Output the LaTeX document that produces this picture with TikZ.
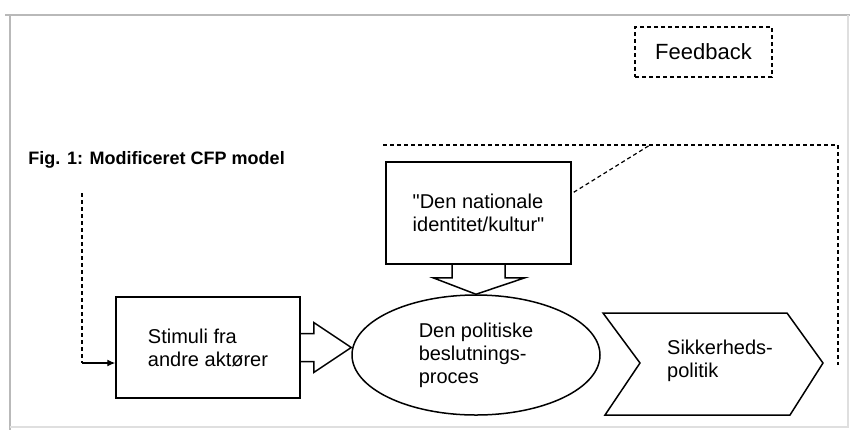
\documentclass[tikz,border=0pt]{standalone}
\usepackage{fontspec}
\setmainfont{Liberation Sans}[Ligatures=TeXOff]
\usetikzlibrary{positioning, arrows.meta, calc, shapes.geometric}

\begin{document}
\begin{tikzpicture}[
        x=0.5pt, y=-0.5pt,
        box/.style={
            rectangle,
            draw,
            line width=0.75pt,
            align=left,
            inner sep=0pt,
            font=\fontsize{10}{11.5}\selectfont
        },
        process/.style={
            ellipse,
            draw,
            line width=0.75pt,
            align=left,
            inner sep=0pt,
            minimum width=124pt,
            minimum height=60pt,
            font=\fontsize{10}{11.5}\selectfont
        },
        label/.style={
            align=left,
            inner sep=0pt,
            font=\fontsize{10}{11.5}\selectfont
        },
        outline/.style={
            line width=0.75pt,
            line join=miter
        },
        feedback/.style={
            line width=0.6pt,
            dash pattern=on 2pt off 1.5pt
        },
        link/.style={
            -{Latex[length=4pt,width=3.5pt]},
            line width=0.6pt
        }
    ]

    \useasboundingbox (0,0) rectangle (852,430);

    % Frame
    \draw[gray!55, line width=1pt] (5,15) -- (850,15);
    \draw[gray!55, line width=1pt] (10,15) -- (10,430);
    \draw[gray!25, line width=0.8pt] (10,427) -- (848,427) -- (848,15);

    % Title
    \node[anchor=west, inner sep=0pt, font=\fontsize{9}{11}\selectfont\bfseries] (title) at (28,160) {Fig. 1: Modificeret CFP model};

    % Boxes
    \node[box, feedback, minimum width=68.5pt, minimum height=25pt, font=\fontsize{11}{13}\selectfont] (fb) at (703.5,52) {Feedback};

    \node[box, minimum width=92.5pt, minimum height=51pt] (ident) at (478.5,213) {
        "Den nationale\\
        identitet/kultur"
    };

    \node[box, minimum width=92pt, minimum height=50.5pt] (stim) at (208,347.5) {
        Stimuli fra\\
        andre aktører
    };

    \node[process] (pol) at (476,355) {
        Den politiske\\
        beslutnings-\\
        proces
    };

    % Output chevron
    \draw[outline] (603,313) -- (787,313) -- (823,363) -- (790,415) -- (605,415) -- (640,363) -- cycle;
    \node[label] (sik) at (720,361) {
        Sikkerheds-\\
        politik
    };

    % Block arrows
    \draw[outline] ($(stim.east)+(0,-14)$) -- ++(13,0) -- ++(0,-11) -- (stim.east -| pol.west)
        -- ($(stim.east)+(13,25)$) -- ++(0,-11) -- ($(stim.east)+(0,14)$);
    \draw[outline] ($(ident.south)+(-26.5,0)$) -- ++(0,13) -- ++(-19,0) -- (pol.north)
        -- ($(ident.south)+(46.5,13)$) -- ++(-20,0) -- ($(ident.south)+(26.5,0)$);

    % Feedback loop
    \coordinate (fbtop) at (383,145);
    \coordinate (fbknee) at (650,145);
    \coordinate (fbright) at (838,145);
    \coordinate (fbdown) at (838,365);
    \coordinate (fbleft) at (82,193);
    \coordinate (fbturn) at (82,363);

    \draw[feedback] (fbtop) -- (fbright) -- (fbdown);
    \draw[feedback] ($(ident.north east)+(2,31)$) -- (fbknee);
    \draw[feedback] (fbleft) -- (fbturn);
    \draw[link] (fbturn) -- (fbturn -| stim.west);

\end{tikzpicture}
\end{document}
